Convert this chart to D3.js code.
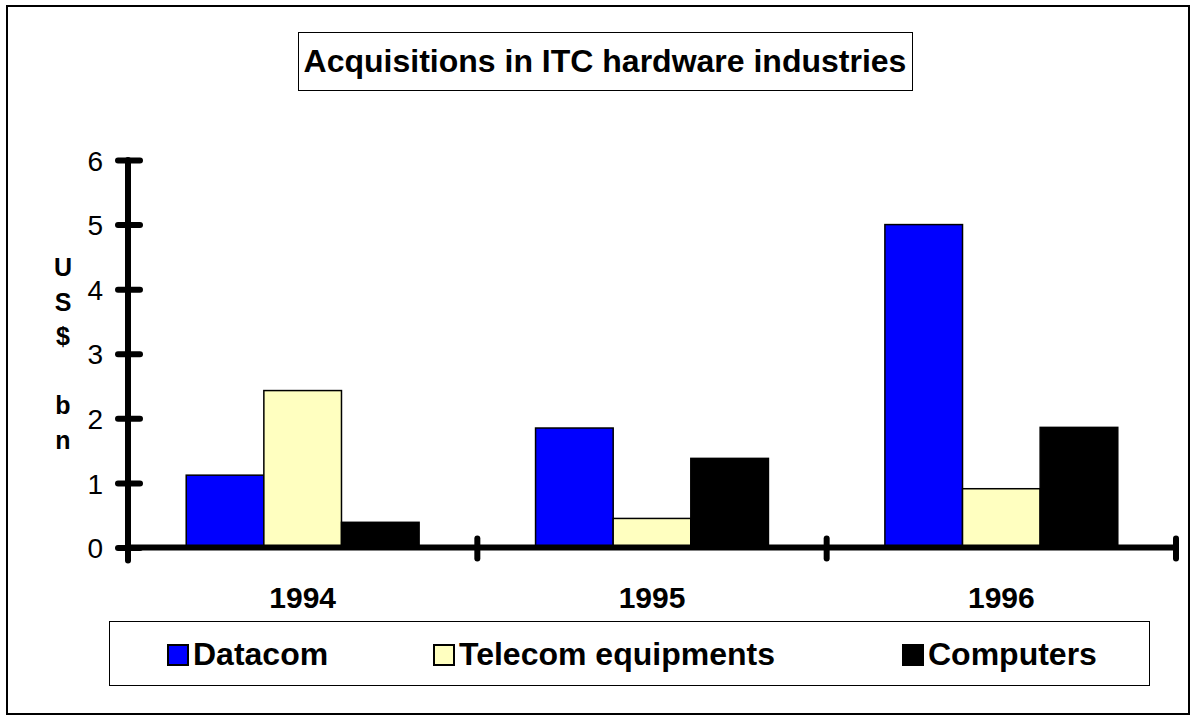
<!doctype html>
<html>
<head>
<style>
  body { margin: 0; background: #fff; }
  text { font-family: "Liberation Sans", Arial, sans-serif; fill: #000; }
</style>
<script src="https://d3js.org/d3.v7.min.js"></script>
</head>
<body>
<svg id="svg" width="1196" height="721"></svg>
<script>
var years = ["1994", "1995", "1996"];
var seriesNames = ["Datacom", "Telecom equipments", "Computers"];
var datacom = [1.12, 1.85, 5.0];
var telecom = [2.43, 0.45, 0.91];
var computers = [0.39, 1.38, 1.86];
var yTicks = [0, 1, 2, 3, 4, 5, 6];
var yLabelChars = ["U", "S", "$", "", "b", "n"];
var colors = ["#0000ff", "#ffffc0", "#000000"];

var svg = d3.select("#svg");

// outer frame
svg.append("rect")
   .attr("x", 7).attr("y", 6).attr("width", 1182).attr("height", 708)
   .attr("fill", "none").attr("stroke", "#000").attr("stroke-width", 2);

// title box
svg.append("rect")
   .attr("x", 298.5).attr("y", 32.5).attr("width", 614).attr("height", 58)
   .attr("fill", "#fff").attr("stroke", "#000").attr("stroke-width", 1);
svg.append("text")
   .attr("x", 605).attr("y", 72)
   .attr("text-anchor", "middle")
   .style("font-size", "32px").style("font-weight", "bold")
   .text("Acquisitions in ITC hardware industries");

var x0 = 128, x1 = 1176, yBase = 547.5, yTop = 160;

var xScale = d3.scaleBand().domain(years).range([x0, x1]).padding(0);
var xSub = d3.scaleBand().domain(seriesNames).range([0, xScale.bandwidth()])
             .paddingInner(0).paddingOuter(0.75);
var yScale = d3.scaleLinear().domain([0, 6]).range([yBase, yTop]);

var rows = years.map(function(y, i) {
    return { year: y, values: [datacom[i], telecom[i], computers[i]] };
});

// bars
var groups = svg.selectAll(".grp")
   .data(rows)
   .enter().append("g")
   .attr("class", "grp")
   .attr("transform", function(d) { return "translate(" + xScale(d.year) + ",0)"; });

groups.selectAll("rect")
   .data(function(d) { return d.values.map(function(v, k) { return { name: seriesNames[k], value: v, k: k }; }); })
   .enter().append("rect")
   .attr("x", function(d) { return xSub(d.name); })
   .attr("y", function(d) { return yScale(d.value); })
   .attr("width", xSub.bandwidth())
   .attr("height", function(d) { return yBase - yScale(d.value); })
   .attr("fill", function(d) { return colors[d.k]; })
   .attr("stroke", "#000")
   .attr("stroke-width", 1.5);

// y axis
var yAxis = svg.append("g")
   .attr("transform", "translate(" + x0 + ",0)")
   .call(d3.axisLeft(yScale).tickValues(yTicks).tickFormat(function(d) { return d; }).tickSize(0).tickPadding(25));
yAxis.select(".domain").remove();
yAxis.selectAll(".tick line")
   .attr("x1", -10).attr("x2", 12)
   .attr("stroke", "#000").attr("stroke-width", 6).attr("stroke-linecap", "round");
yAxis.selectAll(".tick text")
   .style("font-size", "28px")
   .style("font-family", "'Liberation Sans', Arial, sans-serif")
   .attr("dy", "0.36em");
yAxis.append("line")
   .attr("x1", 0).attr("x2", 0).attr("y1", yTop).attr("y2", yBase + 13)
   .attr("stroke", "#000").attr("stroke-width", 6).attr("stroke-linecap", "round");

// x axis
var xAxis = svg.append("g")
   .attr("transform", "translate(0," + yBase + ")")
   .call(d3.axisBottom(xScale).tickSize(0).tickPadding(0));
xAxis.select(".domain").remove();
xAxis.selectAll(".tick line").remove();
xAxis.selectAll(".tick text")
   .attr("y", 60).attr("dy", 0)
   .style("font-size", "30px").style("font-weight", "bold")
   .style("font-family", "'Liberation Sans', Arial, sans-serif");
xAxis.append("line")
   .attr("x1", x0).attr("x2", x1).attr("y1", 0).attr("y2", 0)
   .attr("stroke", "#000").attr("stroke-width", 6);
xAxis.selectAll(".sep")
   .data(years)
   .enter().append("line")
   .attr("class", "sep")
   .attr("x1", function(d) { return xScale(d) + xScale.bandwidth(); })
   .attr("x2", function(d) { return xScale(d) + xScale.bandwidth(); })
   .attr("y1", -9).attr("y2", 11)
   .attr("stroke", "#000").attr("stroke-width", 6).attr("stroke-linecap", "round");

// y axis title, one letter per line
svg.selectAll(".ylab")
   .data(yLabelChars)
   .enter().append("text")
   .attr("class", "ylab")
   .attr("x", 63).attr("y", function(d, i) { return 276 + i * 34.5; })
   .attr("text-anchor", "middle")
   .style("font-size", "25px").style("font-weight", "bold")
   .text(function(d) { return d; });

// legend
svg.append("rect")
   .attr("x", 109.5).attr("y", 621.5).attr("width", 1040).attr("height", 64)
   .attr("fill", "#fff").attr("stroke", "#000").attr("stroke-width", 1);
var legendX = [167, 433, 902];
var leg = svg.selectAll(".leg")
   .data(seriesNames)
   .enter().append("g")
   .attr("class", "leg")
   .attr("transform", function(d, i) { return "translate(" + legendX[i] + ",644)"; });
leg.append("rect")
   .attr("x", 1).attr("y", 1).attr("width", 20).attr("height", 20)
   .attr("fill", function(d, i) { return colors[i]; })
   .attr("stroke", "#000").attr("stroke-width", 2);
leg.append("text")
   .attr("x", 26).attr("y", 21)
   .style("font-size", "32px").style("font-weight", "bold")
   .text(function(d) { return d; });
</script>
</body>
</html>
